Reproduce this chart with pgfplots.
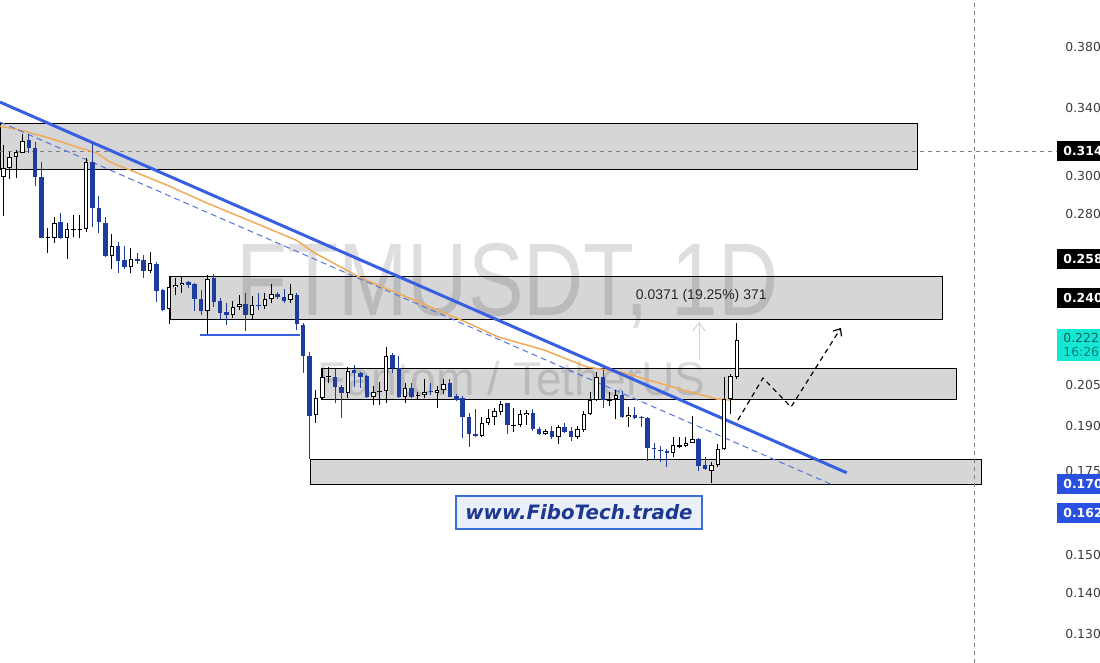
\documentclass[border=0pt]{standalone}
\usepackage{fontspec}
\setmainfont{Liberation Sans}
\newfontfamily\dejavu{DejaVu Sans}
\usepackage{graphicx}
\usepackage{pgfplots}
\pgfplotsset{compat=1.18}
\usetikzlibrary{arrows.meta}

\definecolor{bear}{RGB}{30,60,155}
\definecolor{tline}{RGB}{55,95,225}
\definecolor{tdash}{RGB}{80,115,220}
\definecolor{maor}{RGB}{240,170,90}
\definecolor{wm}{RGB}{222,222,222}
\definecolor{lbl}{RGB}{60,60,60}
\definecolor{cyanbox}{RGB}{20,232,212}
\definecolor{tealA}{RGB}{15,100,95}
\definecolor{tealB}{RGB}{10,130,120}
\definecolor{bluebox}{RGB}{40,80,225}
\definecolor{fibo}{RGB}{30,55,145}
\definecolor{fiboedge}{RGB}{60,110,215}
\definecolor{fibofill}{RGB}{234,240,250}

\pgfplotsset{
  wickK/.style={black, line width=0.5pt},
  bodyK/.style={black, line width=2.25pt},
  bodyW/.style={white, line width=1.25pt, shorten <=0.5pt, shorten >=0.5pt},
  wickB/.style={bear, line width=0.5pt},
  bodyB/.style={bear, line width=2.25pt},
  zone/.style={draw=black, line width=0.5pt, fill=black, fill opacity=0.16},
}
% bullish candle: index, open, high, low, close
\newcommand\bu[5]{%
  \addplot[wickK] coordinates {(#1,#4) (#1,#3)};
  \addplot[bodyK] coordinates {(#1,#2) (#1,#5)};
  \addplot[bodyW] coordinates {(#1,#2) (#1,#5)};}
% bullish doji
\newcommand\bd[5]{%
  \addplot[wickK] coordinates {(#1,#4) (#1,#3)};
  \addplot[bodyK] coordinates {(#1,#2) (#1,#5)};}
% bearish candle
\newcommand\be[5]{%
  \addplot[wickB] coordinates {(#1,#4) (#1,#3)};
  \addplot[bodyB] coordinates {(#1,#2) (#1,#5)};}

\begin{document}
\begin{tikzpicture}
\begin{axis}[
  at={(0,0)}, anchor=south west,
  scale only axis, width=528.5pt, height=331.5pt,
  xmin=-0.517, xmax=165.16,
  ymode=log, ymin=0.12323, ymax=0.4141,
  axis line style={draw=none},
  xtick=\empty,
  ytick={0.13,0.14,0.15,0.175,0.19,0.205,0.28,0.30,0.34,0.38},
  yticklabels={0.130,0.140,0.150,0.175,0.190,0.205,0.280,0.300,0.340,0.380},
  yticklabel pos=right,
  major tick length=0pt, minor tick length=0pt,
  tick style={draw=none},
  yticklabel style={anchor=west, inner sep=0pt, xshift=4pt,
    font=\dejavu\fontsize{6.2}{7}\selectfont, text=lbl},
  clip mode=individual,
]
% watermarks
\node[anchor=base, text=wm, font=\fontsize{51.7}{52}\selectfont, inner sep=0pt]
  at (axis cs:79.03,0.2328) {\scalebox{0.806}[1]{FTMUSDT, 1D}};
\node[anchor=base, text=wm, font=\fontsize{23.7}{24}\selectfont, inner sep=0pt]
  at (axis cs:79.7,0.2009) {\scalebox{0.975}[1]{Fantom / TetherUS}};

% zones
\addplot[zone] coordinates {(-0.517,0.3307) (143.37,0.3307) (143.37,0.3035) (-0.517,0.3035) (-0.517,0.3307)};
\addplot[zone] coordinates {(26.13,0.2500) (147.29,0.2500) (147.29,0.2311) (26.13,0.2311) (26.13,0.2500)};
\addplot[zone] coordinates {(49.95,0.2113) (149.33,0.2113) (149.33,0.1996) (49.95,0.1996) (49.95,0.2113)};
\addplot[zone] coordinates {(48.23,0.1789) (153.40,0.1789) (153.40,0.1709) (48.23,0.1709) (48.23,0.1789)};

% crosshair
\addplot[gray, line width=0.5pt, dash pattern=on 2pt off 2pt] coordinates {(152.3,0.12323) (152.3,0.4141)};
\addplot[gray, line width=0.5pt, dash pattern=on 2pt off 2pt] coordinates {(-0.517,0.314) (165.16,0.314)};

% measure arrow (faint)
\addplot[black!18, line width=0.5pt, -{Straight Barb[length=4pt,width=6pt]}] coordinates {(109.05,0.2144) (109.05,0.2299)};
\node[text=black!85, font=\fontsize{7}{8}\selectfont] at (axis cs:109.4,0.2410) {0.0371 (19.25\%) 371};

% moving average
\addplot[maor, line width=0.75pt] coordinates {
(-0.517,0.3288) (2.62,0.3265) (7.32,0.3217) (11.55,0.3165) (14.69,0.3130)
(16.72,0.3079) (19.86,0.3035) (25.66,0.2952) (31.93,0.2857) (39.14,0.2759)
(45.88,0.2670) (48.86,0.2607) (56.07,0.2491) (64.37,0.2393) (72.84,0.2294)
(77.54,0.2237) (84.75,0.2184) (91.49,0.2117) (96.82,0.2098) (106.54,0.2030)
(111.86,0.1997) (113.9,0.1993)};

% trend lines
\addplot[tdash, line width=0.5pt, dash pattern=on 3pt off 2pt] coordinates {(-0.517,0.3313) (130.05,0.1706)};
\addplot[tline, line width=1.5pt] coordinates {(-0.517,0.3436) (132.2,0.1745)};
\addplot[tline, line width=1pt] coordinates {(30.83,0.2244) (46.5,0.2244)};

% candles
\bu{0}{0.2996}{0.3176}{0.2790}{0.3046}
\bu{1}{0.3046}{0.3136}{0.2985}{0.3108}
\bu{2}{0.3108}{0.3148}{0.2991}{0.3136}
\bu{3}{0.3132}{0.3241}{0.3130}{0.3202}
\be{4}{0.3206}{0.3241}{0.3130}{0.3159}
\be{5}{0.3159}{0.3194}{0.2947}{0.2996}
\be{6}{0.2996}{0.3079}{0.2678}{0.2680}
\bd{7}{0.2678}{0.2730}{0.2607}{0.2683}
\bu{8}{0.2682}{0.2786}{0.2657}{0.2756}
\be{9}{0.2761}{0.2804}{0.2674}{0.2679}
\bu{10}{0.2679}{0.2756}{0.2578}{0.2723}
\bd{11}{0.2720}{0.2795}{0.2686}{0.2726}
\bd{12}{0.2720}{0.2795}{0.2679}{0.2726}
\bu{13}{0.2723}{0.3100}{0.2711}{0.3078}
\be{14}{0.3081}{0.3186}{0.2733}{0.2830}
\be{15}{0.2830}{0.2893}{0.2706}{0.2758}
\be{16}{0.2753}{0.2786}{0.2589}{0.2594}
\bu{17}{0.2594}{0.2699}{0.2531}{0.2641}
\be{18}{0.2641}{0.2662}{0.2512}{0.2571}
\be{19}{0.2574}{0.2641}{0.2531}{0.2540}
\bu{20}{0.2540}{0.2630}{0.2512}{0.2578}
\be{21}{0.2577}{0.2609}{0.2555}{0.2572}
\be{22}{0.2574}{0.2598}{0.2490}{0.2525}
\bu{23}{0.2525}{0.2611}{0.2512}{0.2559}
\be{24}{0.2555}{0.2565}{0.2385}{0.2434}
\be{25}{0.2437}{0.2442}{0.2345}{0.2350}
\bu{26}{0.2353}{0.2500}{0.2290}{0.2449}
\bu{27}{0.2449}{0.2490}{0.2415}{0.2459}
\bu{28}{0.2458}{0.2500}{0.2425}{0.2468}
\be{29}{0.2473}{0.2479}{0.2445}{0.2461}
\be{30}{0.2464}{0.2470}{0.2347}{0.2396}
\be{31}{0.2396}{0.2437}{0.2328}{0.2347}
\bu{32}{0.2347}{0.2504}{0.2249}{0.2485}
\be{33}{0.2490}{0.2509}{0.2363}{0.2385}
\be{34}{0.2390}{0.2400}{0.2310}{0.2338}
\be{35}{0.2342}{0.2378}{0.2286}{0.2328}
\bu{36}{0.2328}{0.2390}{0.2314}{0.2364}
\bu{37}{0.2361}{0.2415}{0.2350}{0.2375}
\be{38}{0.2375}{0.2422}{0.2262}{0.2328}
\bu{39}{0.2328}{0.2410}{0.2310}{0.2371}
\be{40}{0.2373}{0.2422}{0.2350}{0.2369}
\bu{41}{0.2367}{0.2422}{0.2353}{0.2396}
\bu{42}{0.2396}{0.2464}{0.2381}{0.2419}
\be{43}{0.2419}{0.2429}{0.2396}{0.2405}
\be{44}{0.2405}{0.2440}{0.2381}{0.2390}
\bu{45}{0.2393}{0.2464}{0.2378}{0.2419}
\be{46}{0.2415}{0.2425}{0.2265}{0.2290}
\be{47}{0.2286}{0.2294}{0.2094}{0.2160}
\be{48}{0.2160}{0.2177}{0.1789}{0.1935}
\bu{49}{0.1939}{0.2030}{0.1912}{0.1999}
\bu{50}{0.1999}{0.2108}{0.1996}{0.2078}
\bd{51}{0.2077}{0.2116}{0.2055}{0.2083}
\be{52}{0.2078}{0.2108}{0.1983}{0.2040}
\be{53}{0.2040}{0.2049}{0.1929}{0.2018}
\bu{54}{0.2018}{0.2118}{0.1999}{0.2103}
\be{55}{0.2106}{0.2125}{0.2042}{0.2093}
\be{56}{0.2093}{0.2098}{0.2036}{0.2078}
\be{57}{0.2083}{0.2086}{0.1999}{0.2003}
\bu{58}{0.2003}{0.2043}{0.1975}{0.2021}
\bd{59}{0.2021}{0.2061}{0.1975}{0.2025}
\bu{60}{0.2027}{0.2195}{0.1983}{0.2160}
\be{61}{0.2164}{0.2173}{0.2093}{0.2112}
\be{62}{0.2112}{0.2160}{0.1999}{0.2003}
\bu{63}{0.2003}{0.2055}{0.1983}{0.2036}
\be{64}{0.2036}{0.2057}{0.1999}{0.2005}
\bd{65}{0.2010}{0.2024}{0.1996}{0.2013}
\bu{66}{0.2011}{0.2070}{0.1999}{0.2024}
\be{67}{0.2025}{0.2055}{0.2011}{0.2022}
\bu{68}{0.2020}{0.2045}{0.1963}{0.2030}
\bu{69}{0.2030}{0.2070}{0.2015}{0.2052}
\be{70}{0.2057}{0.2070}{0.2003}{0.2005}
\be{71}{0.2007}{0.2015}{0.1989}{0.1995}
\be{72}{0.1999}{0.2007}{0.1858}{0.1931}
\be{73}{0.1931}{0.1947}{0.1830}{0.1873}
\be{74}{0.1873}{0.1959}{0.1864}{0.1866}
\bu{75}{0.1866}{0.1933}{0.1862}{0.1910}
\bu{76}{0.1912}{0.1959}{0.1904}{0.1928}
\bu{77}{0.1931}{0.1963}{0.1904}{0.1954}
\bu{78}{0.1951}{0.1990}{0.1939}{0.1978}
\be{79}{0.1981}{0.1983}{0.1873}{0.1904}
\bd{80}{0.1902}{0.1963}{0.1881}{0.1905}
\bu{81}{0.1904}{0.1957}{0.1898}{0.1943}
\bu{82}{0.1939}{0.1957}{0.1904}{0.1946}
\be{83}{0.1947}{0.1959}{0.1885}{0.1889}
\be{84}{0.1889}{0.1896}{0.1870}{0.1873}
\bu{85}{0.1873}{0.1889}{0.1870}{0.1885}
\be{86}{0.1885}{0.1901}{0.1855}{0.1862}
\bu{87}{0.1862}{0.1904}{0.1839}{0.1896}
\be{88}{0.1896}{0.1912}{0.1875}{0.1881}
\be{89}{0.1885}{0.1896}{0.1850}{0.1862}
\bu{90}{0.1862}{0.1901}{0.1855}{0.1889}
\bu{91}{0.1887}{0.1954}{0.1881}{0.1943}
\bu{92}{0.1943}{0.2024}{0.1939}{0.1993}
\bu{93}{0.1993}{0.2099}{0.1990}{0.2080}
\be{94}{0.2080}{0.2106}{0.1963}{0.1993}
\bd{95}{0.1988}{0.2022}{0.1971}{0.1996}
\bu{96}{0.1996}{0.2030}{0.1924}{0.2011}
\be{97}{0.2011}{0.2027}{0.1929}{0.1931}
\bu{98}{0.1931}{0.1967}{0.1896}{0.1939}
\be{99}{0.1939}{0.1967}{0.1924}{0.1928}
\be{100}{0.1933}{0.1936}{0.1896}{0.1928}
\be{101}{0.1928}{0.1933}{0.1784}{0.1825}
\be{102}{0.1827}{0.1841}{0.1786}{0.1822}
\be{103}{0.1820}{0.1832}{0.1781}{0.1816}
\be{104}{0.1817}{0.1821}{0.1764}{0.1810}
\bu{105}{0.1810}{0.1864}{0.1797}{0.1836}
\bd{106}{0.1830}{0.1864}{0.1825}{0.1836}
\bu{107}{0.1832}{0.1862}{0.1830}{0.1843}
\bu{108}{0.1843}{0.1936}{0.1841}{0.1855}
\be{109}{0.1855}{0.1859}{0.1751}{0.1766}
\be{110}{0.1770}{0.1797}{0.1754}{0.1756}
\bu{111}{0.1751}{0.1781}{0.1712}{0.1770}
\bu{112}{0.1770}{0.1839}{0.1764}{0.1821}
\bu{113}{0.1821}{0.2080}{0.1819}{0.1996}
\bu{114}{0.1996}{0.2091}{0.1943}{0.2083}
\bu{115}{0.2080}{0.2293}{0.2073}{0.2225}

% projected path
\addplot[black, line width=0.6pt, dash pattern=on 2.5pt off 2pt, -{Straight Barb[length=3pt,width=5pt]}]
  coordinates {(115.16,0.1922) (119.08,0.2075) (123.47,0.1968) (131.3,0.2274)};

% website box
\node[draw=fiboedge, line width=1pt, fill=fibofill, minimum width=123pt, minimum height=16.5pt,
  inner sep=0pt, text=fibo, font=\dejavu\bfseries\itshape\fontsize{9.9}{11}\selectfont]
  at (axis cs:90.24,0.1623) {www.FiboTech.trade};

% anchors for price boxes
\coordinate (b314) at (axis cs:165.16,0.314);
\coordinate (b258) at (axis cs:165.16,0.258);
\coordinate (b240) at (axis cs:165.16,0.240);
\coordinate (b222) at (axis cs:165.16,0.2204);
\coordinate (b170) at (axis cs:165.16,0.1709);
\coordinate (b162) at (axis cs:165.16,0.162);
\end{axis}

\tikzset{pbox/.style={anchor=west, minimum height=10pt, text width=30pt, inner xsep=3pt,
  inner ysep=0pt, font=\dejavu\bfseries\fontsize{6.2}{7}\selectfont, text=white}}
\node[pbox, fill=black] at (b314) {0.314};
\node[pbox, fill=black] at (b258) {0.258};
\node[pbox, fill=black] at (b240) {0.240};
\node[pbox, fill=cyanbox, minimum height=16pt, align=left, font=\dejavu\fontsize{6.2}{7.2}\selectfont]
  at (b222) {\textcolor{tealA}{0.222}\\\textcolor{tealB}{16:26}};
\node[pbox, fill=bluebox] at (b170) {0.170};
\node[pbox, fill=bluebox] at (b162) {0.162};

\pgfresetboundingbox
\path[use as bounding box] (0,0) rectangle (550pt,331.5pt);
\end{tikzpicture}
\end{document}
